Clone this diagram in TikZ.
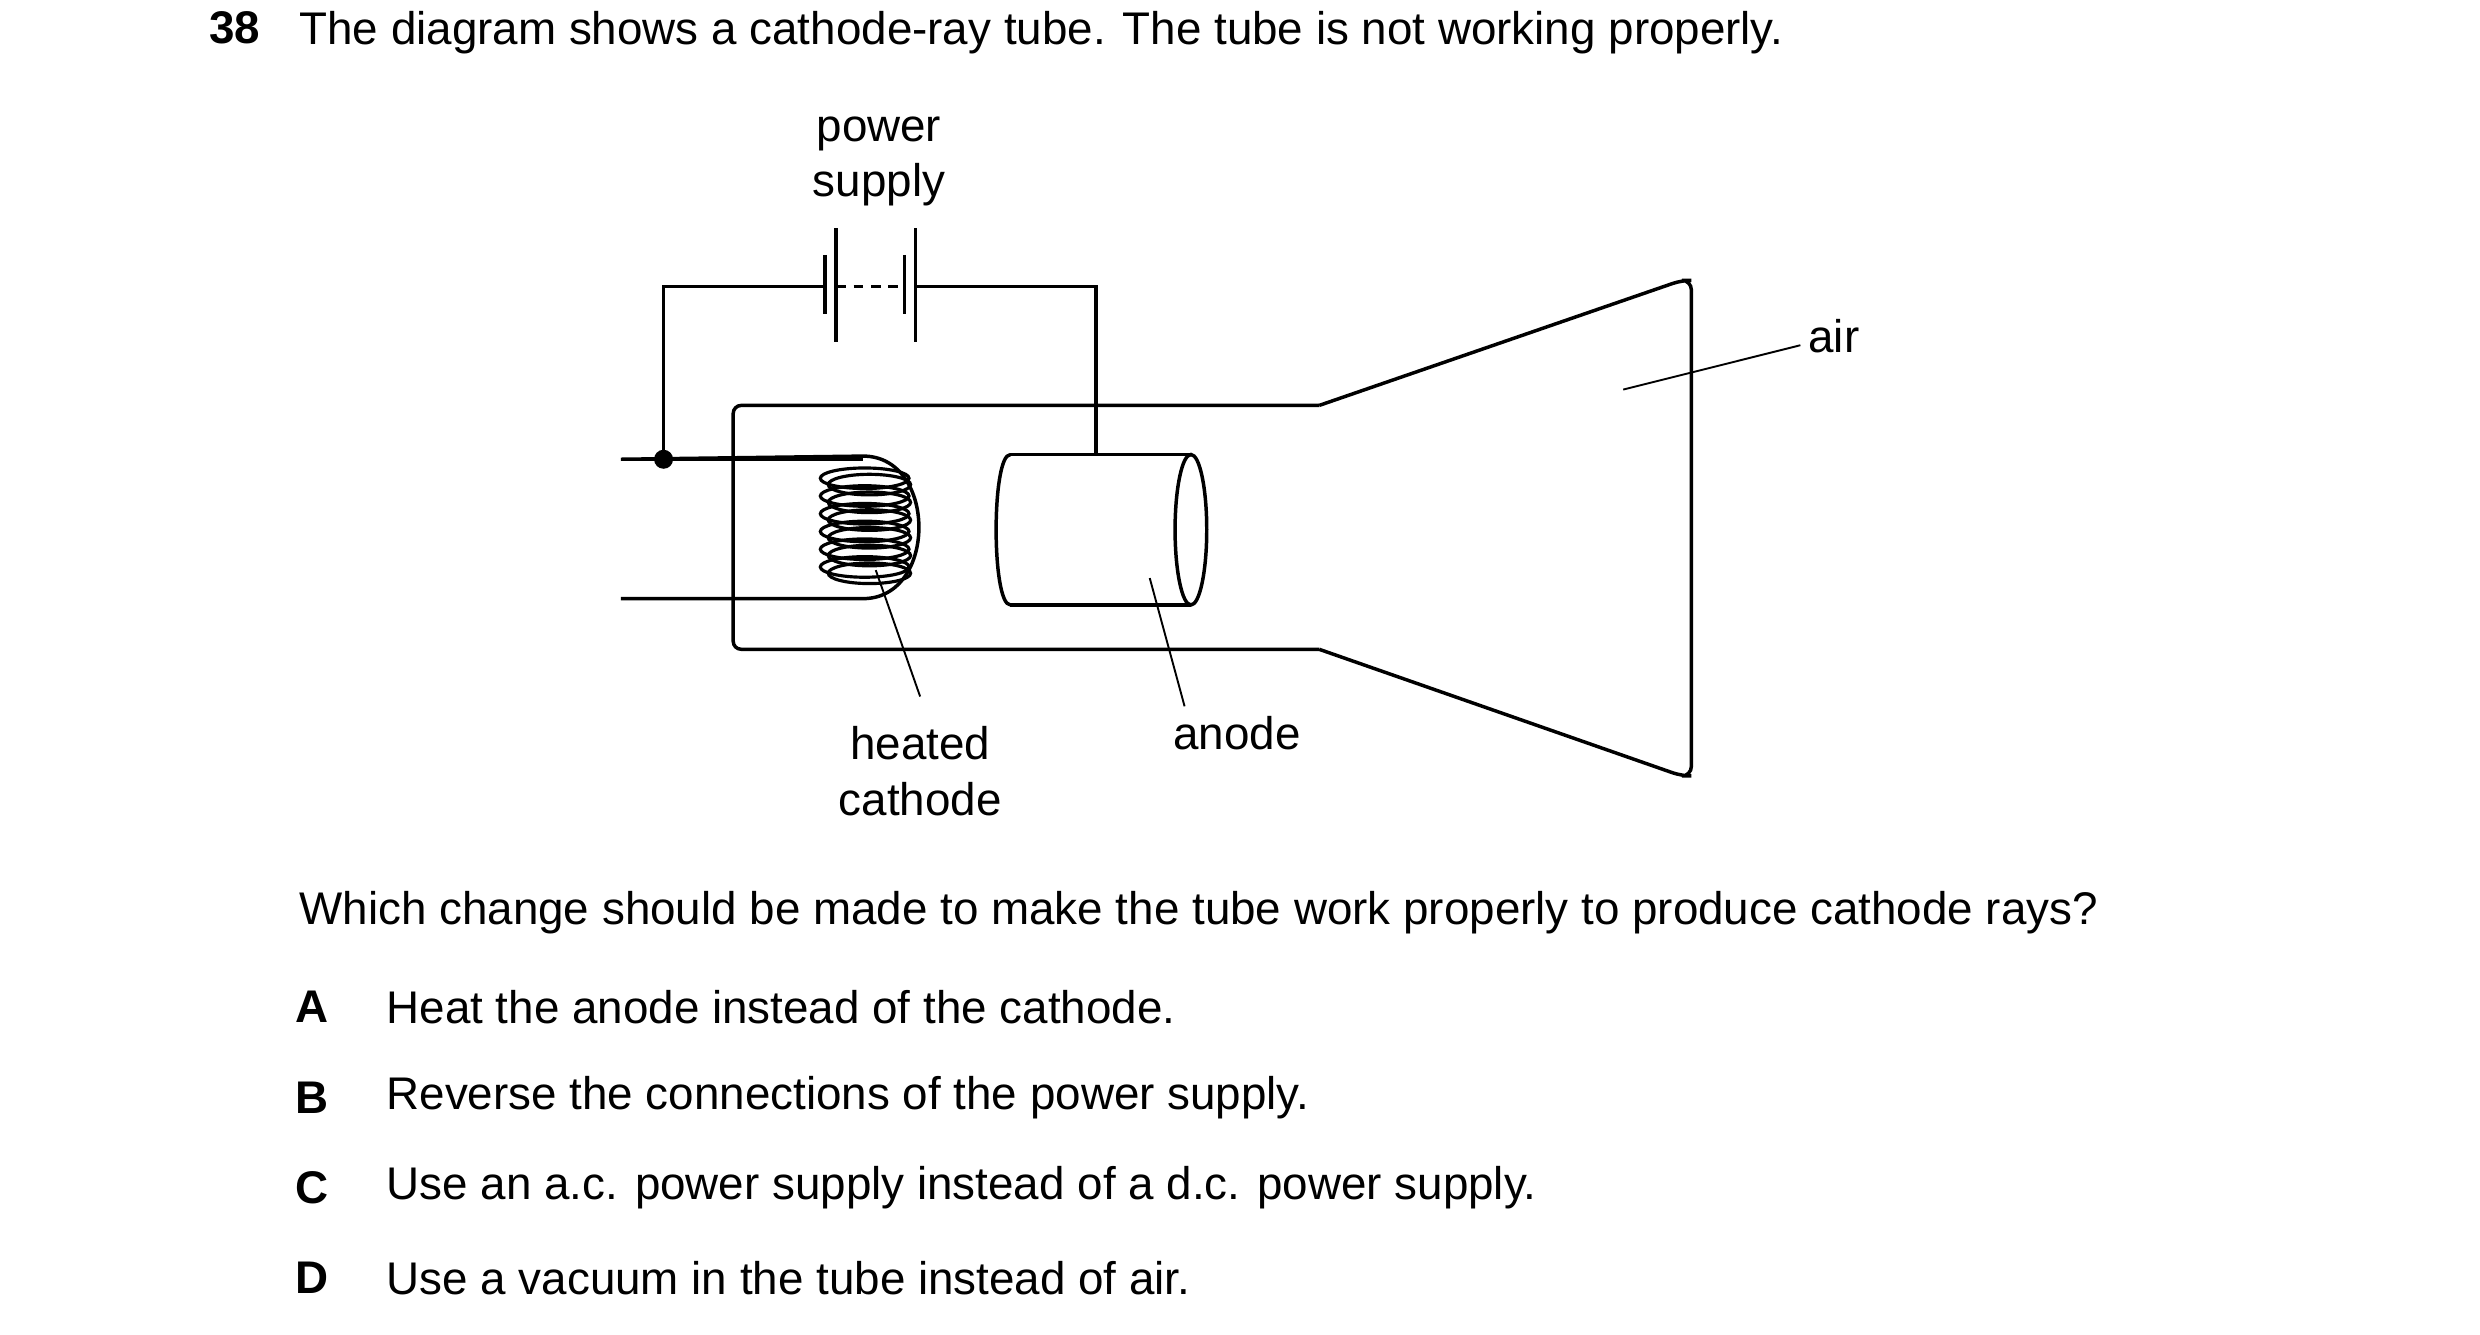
\documentclass[tikz,border=0pt]{standalone}
\usepackage{fontspec}
\setmainfont{Liberation Sans}
\begin{document}
\tikzset{every picture/.style={line width=2.2pt}}
\tikzset{txt/.style={inner sep=0pt,font=\fontsize{28.9}{35}\selectfont,align=center}}
\tikzset{lbl/.style={line width=1.2pt}}

\begin{tikzpicture}[x=1pt,y=1pt,yscale=-1,xscale=1]
\useasboundingbox (0,0) rectangle (1566,842.4);

%Tube
\draw [rounded corners=5]  (833,256) -- (463,256) -- (463,410) -- (833,410) ;
\draw [rounded corners=6]  (833,410) -- (1062,490) -- (1068,490) -- (1068,177) -- (1062,177) -- (833,256) ;
%Leads
\draw  (392,378) -- (545,378) .. controls (592,378) and (592,288) .. (545,288) -- (392,290) ;
\draw  (392,290) -- (545,290) ;
%Coil
\foreach \k in {0,...,5} {
  \draw [line width=2pt] (549,{306+11.2*\k}) ellipse (26 and 6.5);
  \draw [line width=2pt] (546,{302+11.2*\k}) ellipse (28 and 6.5);
}
%Anode
\draw  (638,287) -- (752,287) ;
\draw  (638,382) -- (752,382) ;
\draw  (638,287) .. controls (626,287) and (626,382) .. (638,382) ;
\draw  (752,334.5) ellipse (10 and 47.5) ;
%Circuit
\draw  (419,290) -- (419,181) -- (521,181) ;
\draw  (521,161) -- (521,198) ;
\draw  (528,144) -- (528,216) ;
\draw [dashed,dash pattern=on 6pt off 5pt]  (528,181) -- (571,181) ;
\draw  (571,161) -- (571,198) ;
\draw  (578,144) -- (578,216) ;
\draw  (578,181) -- (692,181) -- (692,287) ;
\fill  (419,290) circle (6) ;

% Text Node
\node [txt,anchor=north west,font=\fontsize{28.9}{35}\selectfont\bfseries] (qnum) at (131,6) {38};
\node [txt,anchor=north west] (qtext) at (188,6) {The diagram shows a cathode-ray tube. The tube is not working properly.};
\node [txt] (ps) at (555,102) {power\\supply};
\node [txt] (hc) at (581,487) {heated\\cathode};
\node [txt] (an) at (781,463) {anode};
\node [txt] (air) at (1158,212) {air};
%Label lines
\draw [lbl]  (hc.north) ++(0,-18) -- (553,360) ;
\draw [lbl]  (748,446) -- (726,365) ;
\draw [lbl]  (air.west) ++(-4,6) -- (1025,246) ;

% Text Node
\node [txt,anchor=west] (ask) at (188,576) {Which change should be made to make the tube work properly to produce cathode rays?};
\foreach \l/\t/\y in {A/Heat the anode instead of the cathode./636, B/Reverse the connections of the power supply./693, C/Use an a.c. power supply instead of a d.c. power supply./750, D/Use a vacuum in the tube instead of air./807} {
  \node [txt,font=\fontsize{28.9}{35}\selectfont\bfseries] (opt\l) at (197,\y) {\l};
  \node [txt,anchor=west] (ans\l) at (243,\y) {\t};
}

\end{tikzpicture}
\end{document}
